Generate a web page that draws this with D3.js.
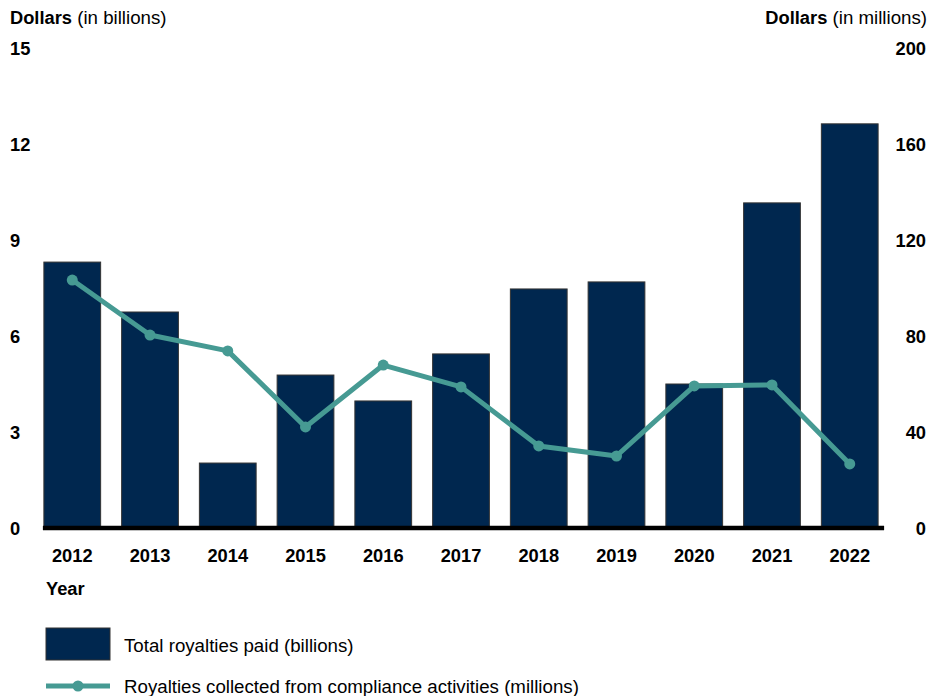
<!DOCTYPE html>
<html>
<head>
<meta charset="utf-8">
<script src="https://cdn.jsdelivr.net/npm/d3@7"></script>
<style>
  html, body { margin: 0; padding: 0; background: #fff; }
  svg { display: block; font-family: "Liberation Sans", Arial, sans-serif; }
</style>
</head>
<body>
<svg id="chart" width="944" height="696"></svg>
<script>
const years = ["2012","2013","2014","2015","2016","2017","2018","2019","2020","2021","2022"];
const royaltiesPaid = [8.31, 6.75, 2.03, 4.78, 3.97, 5.44, 7.47, 7.69, 4.50, 10.16, 12.63];
const complianceCollected = [103.3, 80.4, 73.8, 42.1, 67.9, 58.8, 34.2, 30.0, 59.2, 59.6, 26.7];
const leftTicks = [0, 3, 6, 9, 12, 15];
const rightTicks = [0, 40, 80, 120, 160, 200];
const barLabel = "Total royalties paid (billions)";
const lineLabel = "Royalties collected from compliance activities (millions)";

const navy = "#00274f";
const teal = "#469a93";
const boldSize = 18.3;
const regSize = 18.7;

const svg = d3.select("#chart");

const x = d3.scaleBand().domain(years).range([33, 889]).paddingInner(0.27).paddingOuter(0.14);
const yL = d3.scaleLinear().domain([0, 15]).range([528, 48]);
const yR = d3.scaleLinear().domain([0, 200]).range([528, 48]);

// Titles
const tl = svg.append("text").attr("x", 10).attr("y", 24).attr("fill", "#000");
tl.append("tspan").attr("font-weight", "bold").attr("font-size", boldSize).text("Dollars");
tl.append("tspan").attr("font-size", regSize).text(" (in billions)");
const tr = svg.append("text").attr("x", 927).attr("y", 24).attr("text-anchor", "end").attr("fill", "#000");
tr.append("tspan").attr("font-weight", "bold").attr("font-size", boldSize).text("Dollars");
tr.append("tspan").attr("font-size", regSize).text(" (in millions)");

// Left axis tick labels
const leftAxis = d3.axisLeft(yL).tickValues(leftTicks).tickSize(0).tickPadding(0);
const gL = svg.append("g").attr("transform", "translate(10,0)").call(leftAxis);
gL.select(".domain").remove();
gL.selectAll("text").attr("text-anchor", "start").attr("x", 0).attr("dy", "0.35em")
  .attr("font-size", boldSize).attr("font-weight", "bold").attr("font-family", "Liberation Sans, Arial, sans-serif").attr("fill", "#000");

// Right axis tick labels
const rightAxis = d3.axisRight(yR).tickValues(rightTicks).tickSize(0).tickPadding(0);
const gR = svg.append("g").attr("transform", "translate(926,0)").call(rightAxis);
gR.select(".domain").remove();
gR.selectAll("text").attr("text-anchor", "end").attr("x", 0).attr("dy", "0.35em")
  .attr("font-size", boldSize).attr("font-weight", "bold").attr("font-family", "Liberation Sans, Arial, sans-serif").attr("fill", "#000");

// Bars
svg.append("g").selectAll("rect").data(years).join("rect")
  .attr("x", (d) => x(d))
  .attr("y", (d, i) => yL(royaltiesPaid[i]))
  .attr("width", x.bandwidth())
  .attr("height", (d, i) => yL(0) - yL(royaltiesPaid[i]))
  .attr("fill", navy)
  .attr("stroke", "#333")
  .attr("stroke-width", 1);

// Baseline
svg.append("line")
  .attr("x1", x(years[0]) - 1).attr("x2", x(years[years.length - 1]) + x.bandwidth() + 6)
  .attr("y1", yL(0)).attr("y2", yL(0))
  .attr("stroke", "#000").attr("stroke-width", 4.5);

// X axis labels
const xAxis = d3.axisBottom(x).tickSize(0).tickPadding(0);
const gX = svg.append("g").attr("transform", "translate(0,556)").call(xAxis);
gX.select(".domain").remove();
gX.selectAll("text").attr("dy", "0.35em").attr("y", 0)
  .attr("font-size", boldSize).attr("font-weight", "bold").attr("font-family", "Liberation Sans, Arial, sans-serif").attr("fill", "#000");

svg.append("text").attr("x", 46).attr("y", 589).attr("dy", "0.35em")
  .attr("font-size", boldSize).attr("font-weight", "bold").text("Year");

// Line
const line = d3.line()
  .x((d, i) => x(years[i]) + x.bandwidth() / 2)
  .y((d) => yR(d));
svg.append("path").datum(complianceCollected)
  .attr("d", line).attr("fill", "none").attr("stroke", teal).attr("stroke-width", 5)
  .attr("stroke-linejoin", "round");
svg.append("g").selectAll("circle").data(complianceCollected).join("circle")
  .attr("cx", (d, i) => x(years[i]) + x.bandwidth() / 2)
  .attr("cy", (d) => yR(d))
  .attr("r", 5.5)
  .attr("fill", teal);

// Legend
svg.append("rect").attr("x", 46).attr("y", 628).attr("width", 64).attr("height", 32)
  .attr("fill", navy).attr("stroke", "#333").attr("stroke-width", 1);
svg.append("text").attr("x", 124).attr("y", 645).attr("dy", "0.35em").attr("font-size", regSize).text(barLabel);
svg.append("line").attr("x1", 46).attr("x2", 110).attr("y1", 686).attr("y2", 686)
  .attr("stroke", teal).attr("stroke-width", 5);
svg.append("circle").attr("cx", 78).attr("cy", 686).attr("r", 5.5).attr("fill", teal);
svg.append("text").attr("x", 124).attr("y", 686).attr("dy", "0.35em").attr("font-size", regSize).text(lineLabel);
</script>
</body>
</html>
